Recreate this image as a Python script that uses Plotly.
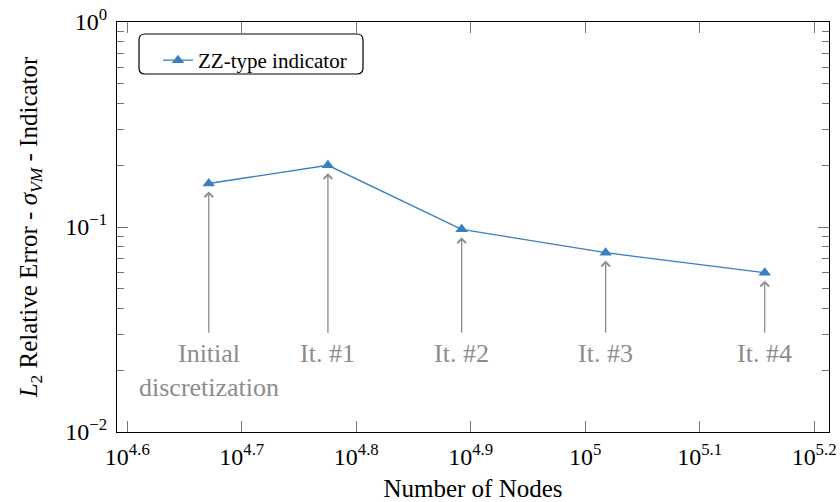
import numpy as np
import plotly.graph_objects as go

# Mesh refinement history: number of nodes and relative error of the ZZ-type indicator
nodes = [46900, 59600, 78000, 104200, 143500]
rel_error = [0.163, 0.2, 0.0974, 0.0749, 0.0598]
step_labels = ["Initial<br>discretization", "It. #1", "It. #2", "It. #3", "It. #4"]
label_level = 0.03  # y position of the step captions

x_tick_exp = [4.6, 4.7, 4.8, 4.9, 5.0, 5.1, 5.2]
x_tick_text = ["10<sup>4.6</sup>", "10<sup>4.7</sup>", "10<sup>4.8</sup>", "10<sup>4.9</sup>",
               "10<sup>5</sup>", "10<sup>5.1</sup>", "10<sup>5.2</sup>"]
y_tick_vals = [1e-2, 1e-1, 1e0]
y_tick_text = ["10<sup>\u22122</sup>", "10<sup>\u22121</sup>", "10<sup>0</sup>"]

FONT = "Liberation Serif, Times New Roman, serif"
BLUE = "#3a7fbf"
GREY = "#8c8c8c"

W, H = 840, 502
ml, mr, mt, mb = 117, 11, 22, 70
pw, ph = W - ml - mr, H - mt - mb

fig = go.Figure()
fig.add_trace(go.Scatter(
    x=nodes, y=rel_error, mode="lines+markers", name="ZZ-type indicator",
    line=dict(color=BLUE, width=1.3),
    marker=dict(symbol="triangle-up", size=11, color=BLUE),
))

annotations = []
for n, e, lab in zip(nodes, rel_error, step_labels):
    lx = np.log10(n)
    # arrow from caption up to the data point
    annotations.append(dict(
        x=lx, y=np.log10(e), xref="x", yref="y",
        ax=lx, ay=np.log10(label_level), axref="x", ayref="y",
        text="", showarrow=True, arrowhead=4, arrowsize=1.3, arrowwidth=1.3,
        arrowcolor=GREY, standoff=8,
    ))
    annotations.append(dict(
        x=lx, y=np.log10(label_level), xref="x", yref="y", yshift=-3,
        text=lab, showarrow=False, yanchor="top", xanchor="center",
        font=dict(family=FONT, size=26, color=GREY), align="center",
    ))

minor_y = [m * 10.0 ** k for k in (-2, -1) for m in range(2, 10)]

axis_common = dict(
    showgrid=False, zeroline=False, showline=True, linecolor="black", linewidth=1.2,
    mirror="allticks", ticks="inside", ticklen=11, tickcolor="#777", tickwidth=1,
    tickfont=dict(family=FONT, size=24, color="black"), automargin=False,
)

fig.update_layout(
    width=W, height=H, margin=dict(l=ml, r=mr, t=mt, b=mb, autoexpand=False),
    paper_bgcolor="white", plot_bgcolor="white",
    font=dict(family=FONT, color="black"),
    xaxis=dict(
        type="log", range=[4.591, 5.213],
        tickvals=[10 ** v for v in x_tick_exp], ticktext=x_tick_text,
        ticklabelstandoff=3,
        title=dict(text="Number of Nodes", font=dict(family=FONT, size=25), standoff=14),
        **axis_common,
    ),
    yaxis=dict(
        type="log", range=[-2, 0],
        tickvals=y_tick_vals, ticktext=y_tick_text, ticklabelstandoff=4,
        minor=dict(tickvals=minor_y, ticks="inside", ticklen=7, tickcolor="#777"),
        title=dict(text="<i>L</i><sub>2</sub> Relative Error - <i>\u03c3<sub>VM</sub></i> - Indicator",
                   font=dict(family=FONT, size=25), standoff=20),
        **axis_common,
    ),
    showlegend=True,
    legend=dict(
        x=(158 - ml) / pw, y=1 - (40 - mt) / ph, xanchor="left", yanchor="top",
        bgcolor="rgba(0,0,0,0)", borderwidth=0,
        font=dict(family=FONT, size=21, color="black"),
    ),
    annotations=annotations,
)

# rounded legend frame
x0, x1 = (139 - ml) / pw, (363 - ml) / pw
y1, y0 = 1 - (34 - mt) / ph, 1 - (74 - mt) / ph
r = 6
rx, ry = r / pw, r / ph
path = (f"M {x0+rx},{y1} L {x1-rx},{y1} Q {x1},{y1} {x1},{y1-ry} "
        f"L {x1},{y0+ry} Q {x1},{y0} {x1-rx},{y0} L {x0+rx},{y0} "
        f"Q {x0},{y0} {x0},{y0+ry} L {x0},{y1-ry} Q {x0},{y1} {x0+rx},{y1} Z")
fig.add_shape(type="path", path=path, xref="paper", yref="paper",
              line=dict(color="black", width=1.2), fillcolor="rgba(0,0,0,0)", layer="above")

fig.write_html("out.html")
